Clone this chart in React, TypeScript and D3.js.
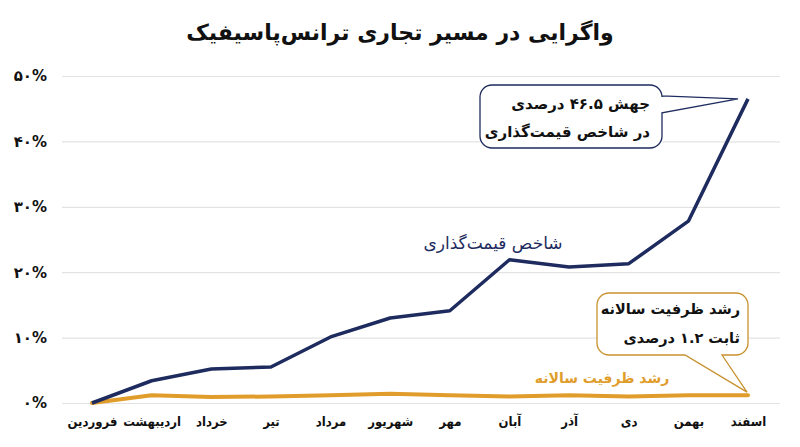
import * as d3 from 'd3'
import { useEffect, useRef } from 'react'

const width = 800
const height = 447
const marginTop = 76
const marginBottom = 44
const gridLeft = 62
const gridRight = 780
const plotLeft = 92
const plotRight = 748

const months = ['فروردین', 'اردیبهشت', 'خرداد', 'تیر', 'مرداد', 'شهریور', 'مهر', 'آبان', 'آذر', 'دی', 'بهمن', 'اسفند']
const pricingIndex = [0, 3.4, 5.2, 5.5, 10.1, 13.0, 14.1, 21.9, 20.8, 21.3, 27.8, 46.5]
const capacityGrowth = [0, 1.2, 0.9, 1.0, 1.2, 1.4, 1.2, 1.0, 1.2, 1.0, 1.2, 1.2]
const yTicks = [0, 10, 20, 30, 40, 50]

const navy = '#1e2b5e'
const orange = '#e09d2c'
const orangeBorder = '#c8922f'
const font = "'DejaVu Sans', 'Noto Sans', sans-serif"
const narrowFont = "'DejaVu Sans Condensed', 'DejaVu Sans', sans-serif"

const faDigits = (s: string) => s.replace(/\d/g, d => '۰۱۲۳۴۵۶۷۸۹'[+d])

// rounded box with a pointer on its right or bottom edge
function bubble(x0: number, y0: number, x1: number, y1: number, r: number, side: 'right' | 'bottom', a: number, b: number, tx: number, ty: number) {
  const p = d3.path()
  p.moveTo(x0 + r, y0)
  p.lineTo(x1 - r, y0)
  p.arcTo(x1, y0, x1, y0 + r, r)
  if (side === 'right') {
    p.lineTo(x1, a)
    p.lineTo(tx, ty)
    p.lineTo(x1, b)
  }
  p.lineTo(x1, y1 - r)
  p.arcTo(x1, y1, x1 - r, y1, r)
  if (side === 'bottom') {
    p.lineTo(b, y1)
    p.lineTo(tx, ty)
    p.lineTo(a, y1)
  }
  p.lineTo(x0 + r, y1)
  p.arcTo(x0, y1, x0, y1 - r, r)
  p.lineTo(x0, y0 + r)
  p.arcTo(x0, y0, x0 + r, y0, r)
  p.closePath()
  return p.toString()
}

export default function App() {
  const ref = useRef(null)

  useEffect(() => {
    const svg = d3.select(ref.current)
    svg.selectAll('*').remove()

    const x = d3.scalePoint(months, [plotLeft, plotRight])
    const y = d3.scaleLinear([0, 50], [height - marginBottom, marginTop])

    // title
    svg
      .append('text')
      .attr('x', width / 2)
      .attr('y', 32)
      .attr('dy', '0.35em')
      .attr('text-anchor', 'middle')
      .attr('direction', 'rtl')
      .attr('font-family', font)
      .attr('font-size', 22)
      .attr('font-weight', 'bold')
      .attr('fill', '#111')
      .text('واگرایی در مسیر تجاری ترانس‌پاسیفیک')

    // y axis with grid lines
    svg
      .append('g')
      .attr('transform', `translate(${gridLeft},0)`)
      .call(
        d3
          .axisLeft(y)
          .tickValues(yTicks)
          .tickSize(-(gridRight - gridLeft))
          .tickPadding(15)
          .tickFormat(d => faDigits(String(d)) + '%')
      )
      .call(g => g.select('.domain').remove())
      .call(g => g.selectAll('.tick line').attr('stroke', '#e3e3e3').attr('stroke-width', 1.2))
      .call(g =>
        g
          .selectAll('.tick text')
          .attr('font-family', font)
          .attr('font-size', 15)
          .attr('font-weight', 'bold')
          .attr('fill', '#111')
      )

    // x axis labels
    svg
      .append('g')
      .attr('transform', `translate(0,${height - marginBottom})`)
      .call(d3.axisBottom(x).tickSize(0).tickPadding(14))
      .call(g => g.select('.domain').remove())
      .call(g =>
        g
          .selectAll('.tick text')
          .attr('direction', 'rtl')
          .attr('font-family', narrowFont)
          .attr('font-size', 13)
          .attr('font-weight', 'bold')
          .attr('fill', '#111')
      )

    const line = d3
      .line<number>()
      .x((_, i) => x(months[i]) as number)
      .y(d => y(d))

    svg
      .append('path')
      .attr('fill', 'none')
      .attr('stroke', orange)
      .attr('stroke-width', 4)
      .attr('stroke-linejoin', 'round')
      .attr('stroke-linecap', 'round')
      .attr('d', line(capacityGrowth))

    svg
      .append('path')
      .attr('fill', 'none')
      .attr('stroke', navy)
      .attr('stroke-width', 3.5)
      .attr('stroke-linejoin', 'round')
      .attr('d', line(pricingIndex))

    const last = months.length - 1
    const px = x(months[last]) as number
    const pyBlue = y(pricingIndex[last])
    const pyOrange = y(capacityGrowth[last])

    // series labels
    svg
      .append('text')
      .attr('x', 493)
      .attr('y', 243)
      .attr('dy', '0.35em')
      .attr('text-anchor', 'middle')
      .attr('direction', 'rtl')
      .attr('font-family', font)
      .attr('font-size', 17)
      .attr('fill', navy)
      .text('شاخص قیمت‌گذاری')

    svg
      .append('text')
      .attr('x', 602)
      .attr('y', 378)
      .attr('dy', '0.35em')
      .attr('text-anchor', 'middle')
      .attr('direction', 'rtl')
      .attr('font-family', font)
      .attr('font-size', 14)
      .attr('font-weight', 'bold')
      .attr('fill', orange)
      .text('رشد ظرفیت سالانه')

    // callout for the pricing index
    svg
      .append('path')
      .attr('fill', '#fff')
      .attr('stroke', navy)
      .attr('stroke-width', 1.3)
      .attr('d', bubble(480, 85, 662, 148, 12, 'right', pyBlue - 3, pyBlue + 14, px - 10, pyBlue))

    const blueText = svg
      .append('text')
      .attr('direction', 'rtl')
      .attr('text-anchor', 'start')
      .attr('font-family', font)
      .attr('font-size', 15)
      .attr('font-weight', 'bold')
      .attr('fill', '#111')
    blueText.append('tspan').attr('x', 650).attr('y', 109).text('جهش ' + faDigits('46.5') + ' درصدی')
    blueText.append('tspan').attr('x', 650).attr('y', 137).text('در شاخص قیمت‌گذاری')

    // callout for capacity growth
    svg
      .append('path')
      .attr('fill', '#fff')
      .attr('stroke', orangeBorder)
      .attr('stroke-width', 1.3)
      .attr('d', bubble(597, 293, 748, 355, 12, 'bottom', 685, 722, px - 1, pyOrange - 3))

    const orangeText = svg
      .append('text')
      .attr('direction', 'rtl')
      .attr('text-anchor', 'start')
      .attr('font-family', font)
      .attr('font-size', 14.5)
      .attr('font-weight', 'bold')
      .attr('fill', '#111')
    orangeText.append('tspan').attr('x', 740).attr('y', 314).text('رشد ظرفیت سالانه')
    orangeText.append('tspan').attr('x', 740).attr('y', 343).text('ثابت ' + faDigits('1.2') + ' درصدی')
  }, [])

  return (
    <svg
      ref={ref}
      width={width}
      height={height}
      viewBox={`0 0 ${width} ${height}`}
      style={{ position: 'absolute', left: 0, top: 0, background: '#fff', fontFamily: font }}
    ></svg>
  )
}
